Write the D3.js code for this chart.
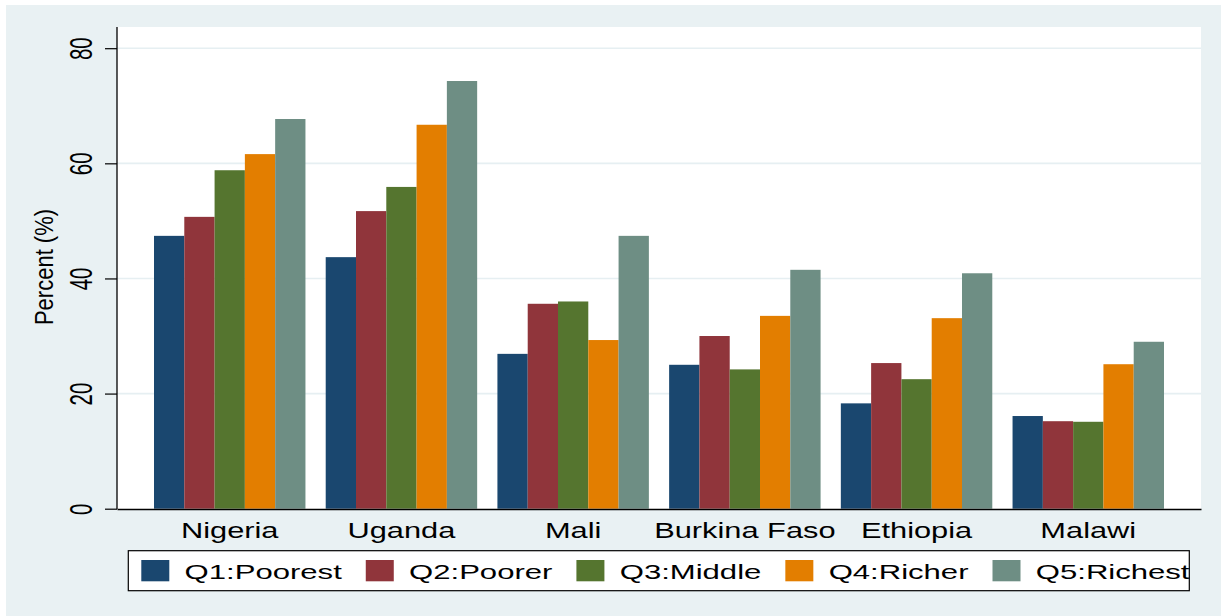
<!DOCTYPE html>
<html>
<head>
<meta charset="utf-8">
<script src="https://cdn.jsdelivr.net/npm/d3@7/dist/d3.min.js"></script>
<style>
  html, body { margin: 0; padding: 0; background: #ffffff; }
  svg { display: block; font-family: "Liberation Sans", Arial, sans-serif; }
</style>
</head>
<body>
<svg id="chart" width="1221" height="616"></svg>
<script>
// ---- data ----
const countries = ["Nigeria", "Uganda", "Mali", "Burkina Faso", "Ethiopia", "Malawi"];
const quintiles = ["Q1:Poorest", "Q2:Poorer", "Q3:Middle", "Q4:Richer", "Q5:Richest"];
const q1 = [47.4, 43.7, 26.9, 25.0, 18.3, 16.1];
const q2 = [50.7, 51.7, 35.6, 30.0, 25.3, 15.2];
const q3 = [58.8, 55.9, 36.0, 24.2, 22.5, 15.1];
const q4 = [61.6, 66.7, 29.3, 33.5, 33.1, 25.1];
const q5 = [67.7, 74.3, 47.4, 41.5, 40.9, 29.0];
const yTicks = [0, 20, 40, 60, 80];
const colors = ["#1a476f", "#90353b", "#55752f", "#e37e00", "#6e8e84"];

const series = [q1, q2, q3, q4, q5];

// ---- layout ----
const svg = d3.select("#chart");
const W = 1221, H = 616;
const plot = { left: 117, right: 1201, top: 27, bottom: 509 };

svg.append("rect").attr("x", 6).attr("y", 5).attr("width", W - 6).attr("height", H - 5)
  .attr("fill", "#e9f1f3");
svg.append("rect").attr("x", plot.left).attr("y", plot.top)
  .attr("width", plot.right - plot.left).attr("height", plot.bottom - plot.top)
  .attr("fill", "#ffffff");

const y = d3.scaleLinear().domain([0, 80]).range([508.7, 48.2]);
const x0 = d3.scaleBand().domain(countries).range([plot.left, plot.right])
  .paddingInner(0.118).paddingOuter(0.2155);
const x1 = d3.scaleBand().domain(quintiles).range([0, x0.bandwidth()]).padding(0);
const color = d3.scaleOrdinal().domain(quintiles).range(colors);

// gridlines
svg.append("g").selectAll("line").data(yTicks.filter(d => d > 0)).join("line")
  .attr("x1", plot.left).attr("x2", plot.right)
  .attr("y1", d => y(d)).attr("y2", d => y(d))
  .attr("stroke", "#e6eff2").attr("stroke-width", 1.6);

// bars
const rows = [];
countries.forEach((c, i) => quintiles.forEach((q, j) => rows.push({ c, q, v: series[j][i] })));
svg.append("g").selectAll("rect").data(rows).join("rect")
  .attr("x", d => x0(d.c) + x1(d.q))
  .attr("width", x1.bandwidth())
  .attr("y", d => y(d.v))
  .attr("height", d => y(0) - y(d.v))
  .attr("fill", d => color(d.q));

// y axis
const yAxis = svg.append("g").attr("transform", `translate(${plot.left},0)`)
  .call(d3.axisLeft(y).tickValues(yTicks).tickSize(12).tickSizeOuter(0).tickFormat(d3.format("d")));
yAxis.select(".domain").remove();
yAxis.selectAll(".tick line").attr("stroke", "#000").attr("stroke-width", 1.2);
yAxis.selectAll(".tick text")
  .attr("x", null).attr("dy", null)
  .attr("text-anchor", "middle")
  .attr("transform", "translate(-25.5,0) scale(1.55,1) rotate(-90)")
  .attr("font-size", 20.5).attr("fill", "#000")
  .attr("font-family", "'Liberation Sans', Arial, sans-serif");
svg.append("line").attr("x1", plot.left).attr("x2", plot.left)
  .attr("y1", plot.top).attr("y2", plot.bottom)
  .attr("stroke", "#000").attr("stroke-width", 1.3);

// x axis
const xAxis = svg.append("g").attr("transform", `translate(0,${plot.bottom})`)
  .call(d3.axisBottom(x0).tickSize(0).tickSizeOuter(0));
xAxis.select(".domain").attr("stroke", "#000").attr("stroke-width", 1.3);
xAxis.selectAll(".tick text")
  .attr("y", null).attr("dy", null)
  .attr("transform", "translate(0,29.3) scale(1.4,1)")
  .attr("font-size", 22).attr("fill", "#000")
  .attr("font-family", "'Liberation Sans', Arial, sans-serif");

// y axis title
svg.append("text")
  .attr("transform", "translate(53,267) scale(1.13,1) rotate(-90)")
  .attr("text-anchor", "middle")
  .attr("font-size", 22).attr("fill", "#000")
  .text("Percent (%)");

// legend
const leg = { x: 128.3, y: 550.7, w: 1061, h: 40 };
svg.append("rect").attr("x", leg.x).attr("y", leg.y).attr("width", leg.w).attr("height", leg.h)
  .attr("fill", "#fff").attr("stroke", "#000").attr("stroke-width", 1.2);
const sx = 1.48, fs = 21;
let cx = 141.3;
quintiles.forEach(q => {
  svg.append("rect").attr("x", cx).attr("y", 560).attr("width", 28).attr("height", 21.3)
    .attr("fill", color(q));
  const tx = cx + 28 + 15.3;
  const t = svg.append("text")
    .attr("transform", `translate(${tx},579.3) scale(${sx},1)`)
    .attr("font-size", fs).attr("fill", "#000")
    .text(q);
  const wText = t.node().getComputedTextLength() * sx;
  cx = tx + wText + 24;
});
</script>
</body>
</html>
